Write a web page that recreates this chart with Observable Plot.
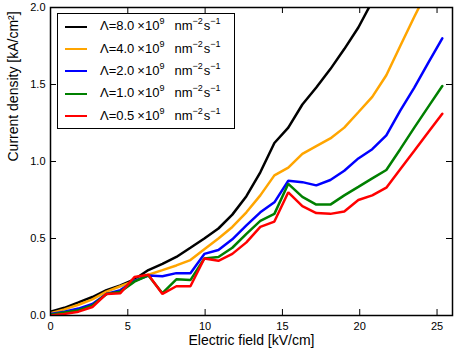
<!DOCTYPE html>
<html>
<head>
<meta charset="utf-8">
<script src="https://cdn.jsdelivr.net/npm/d3@7"></script>
<script src="https://cdn.jsdelivr.net/npm/@observablehq/plot@0.6"></script>
<style>
  body { margin: 0; background: #fff; font-family: "Liberation Sans", Arial, sans-serif; }
  #wrap { position: relative; width: 457px; height: 355px; }
  #legend { position: absolute; left: 57px; top: 13px; width: 176px; height: 112px;
    border: 1.5px solid #000; background: #fff; padding-top: 1.5px; box-sizing: content-box; }
  .row { height: 22.4px; display: flex; align-items: center; font-size: 13px; color: #000; white-space: nowrap; }
  .sw { width: 22px; height: 0; border-top: 2.5px solid; margin-left: 7px; margin-right: 13px; flex: none; }
  .lab { display: inline-block; line-height: 13px; }
  .lab .sup { font-size: 9px; position: relative; top: -6px; }
</style>
</head>
<body>
<div id="wrap"></div>
<script>
// Electric field (kV/cm)
const field = [0, 0.9, 1.81, 2.71, 3.62, 4.52, 5.43, 6.33, 7.24, 8.14, 9.05, 9.95, 10.86, 11.76, 12.67, 13.57, 14.48, 15.38, 16.29, 17.19, 18.1, 19.0, 19.91, 20.81, 21.72, 22.62, 23.53, 24.43, 25.34];
// Current density (kA/cm^2) for each generation rate
const j80 = [0.025, 0.05, 0.085, 0.12, 0.165, 0.195, 0.235, 0.295, 0.335, 0.38, 0.44, 0.5, 0.565, 0.655, 0.775, 0.93, 1.12, 1.22, 1.37, 1.48, 1.6, 1.73, 1.87, 2.04];
const j40 = [0.015, 0.04, 0.07, 0.105, 0.155, 0.19, 0.225, 0.265, 0.295, 0.325, 0.36, 0.43, 0.5, 0.575, 0.67, 0.78, 0.91, 0.96, 1.05, 1.1, 1.15, 1.22, 1.32, 1.42, 1.56, 1.75, 1.94, 2.12];
const j20 = [0.01, 0.025, 0.045, 0.075, 0.14, 0.165, 0.225, 0.26, 0.255, 0.275, 0.275, 0.4, 0.425, 0.495, 0.585, 0.67, 0.735, 0.875, 0.866, 0.845, 0.88, 0.94, 1.02, 1.08, 1.17, 1.33, 1.48, 1.64, 1.8];
const j10 = [0.005, 0.02, 0.035, 0.065, 0.14, 0.155, 0.22, 0.26, 0.145, 0.235, 0.23, 0.37, 0.38, 0.44, 0.53, 0.615, 0.66, 0.855, 0.77, 0.72, 0.72, 0.78, 0.835, 0.89, 0.945, 1.08, 1.22, 1.355, 1.49];
const j05 = [0.0, 0.01, 0.025, 0.055, 0.14, 0.145, 0.25, 0.265, 0.14, 0.19, 0.19, 0.37, 0.355, 0.4, 0.475, 0.575, 0.61, 0.8, 0.71, 0.665, 0.66, 0.675, 0.75, 0.78, 0.83, 0.95, 1.07, 1.19, 1.31];

const rates = ["8.0", "4.0", "2.0", "1.0", "0.5"];
const colors = ["#000000", "#FFA500", "#0000FF", "#008000", "#FF0000"];
const seriesValues = [j80, j40, j20, j10, j05];
const xTicks = [0, 5, 10, 15, 20, 25];
const yTicks = [0, 0.5, 1.0, 1.5, 2.0];

const data = [];
seriesValues.forEach((vals, s) => vals.forEach((v, i) => data.push({x: field[i], y: v, rate: rates[s]})));

const W = 457, H = 355, mL = 50, mR = 5, mT = 7, mB = 40;
const iW = W - mL - mR, iH = H - mT - mB, tk = 6;
const tickStyle = {stroke: "#000", strokeOpacity: 1, strokeWidth: 1};

const chart = Plot.plot({
  width: W, height: H,
  marginLeft: mL, marginRight: mR, marginTop: mT, marginBottom: mB,
  style: {fontFamily: "'Liberation Sans', Arial, sans-serif", fontSize: "11px", color: "#000", background: "#fff"},
  x: {domain: [0, 26]},
  y: {domain: [0, 2]},
  color: {domain: rates, range: colors},
  marks: [
    Plot.line(data, {x: "x", y: "y", z: "rate", stroke: "rate", strokeWidth: 2.5, clip: true, strokeLinejoin: "miter"}),
    Plot.gridX(xTicks, {...tickStyle, insetTop: iH - tk}),
    Plot.gridX(xTicks, {...tickStyle, insetBottom: iH - tk}),
    Plot.gridY(yTicks, {...tickStyle, insetRight: iW - tk}),
    Plot.gridY(yTicks, {...tickStyle, insetLeft: iW - tk}),
    Plot.axisX(xTicks, {tickSize: 0, tickPadding: 7, label: null, fontSize: 11}),
    Plot.axisY(yTicks, {tickSize: 0, tickPadding: 5, label: null, tickFormat: d3.format(".1f"), fontSize: 11}),
    Plot.frame({stroke: "#000", strokeWidth: 1.5}),
    Plot.text(["Electric field [kV/cm]"], {frameAnchor: "bottom", dy: 29, fontSize: 14, fill: "#000"}),
    Plot.text(["Current density [kA/cm²]"], {frameAnchor: "left", dx: -37, rotate: -90, fontSize: 14, fill: "#000"})
  ]
});

const wrap = document.getElementById("wrap");
wrap.appendChild(chart);

const legend = document.createElement("div");
legend.id = "legend";
rates.forEach((r, i) => {
  const row = document.createElement("div");
  row.className = "row";
  row.innerHTML = `<span class="sw" style="border-color:${colors[i]}"></span>` +
    `<span class="lab">Λ=${r}<span style="margin-left:3px">×</span>10<span class="sup">9</span>` +
    `<span style="margin-left:10px">nm</span><span class="sup">−2</span><span style="margin-left:1px">s</span><span class="sup">−1</span></span>`;
  legend.appendChild(row);
});
wrap.appendChild(legend);
</script>
</body>
</html>
